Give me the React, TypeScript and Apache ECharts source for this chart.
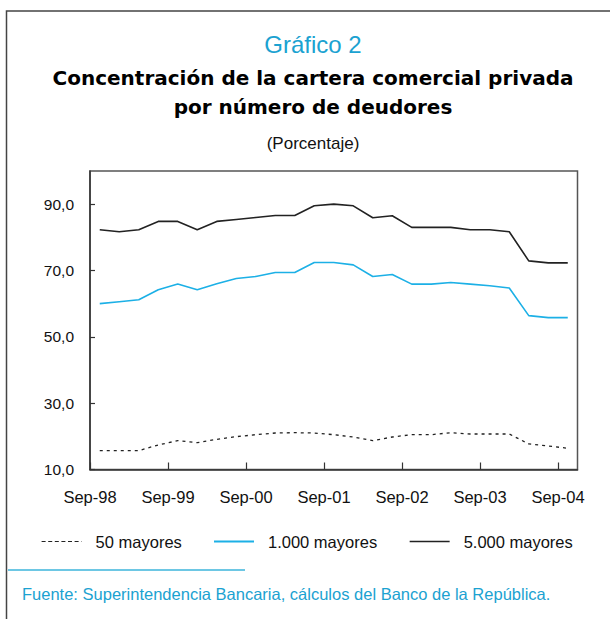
import React, { useEffect, useRef } from "react";
import * as echarts from "echarts";

// Quarterly observations, Sep-98 .. Sep-04
const quarters = [
  "Sep-98", "Dic-98", "Mar-99", "Jun-99",
  "Sep-99", "Dic-99", "Mar-00", "Jun-00",
  "Sep-00", "Dic-00", "Mar-01", "Jun-01",
  "Sep-01", "Dic-01", "Mar-02", "Jun-02",
  "Sep-02", "Dic-02", "Mar-03", "Jun-03",
  "Sep-03", "Dic-03", "Mar-04", "Jun-04",
  "Sep-04",
];
const tickLabels = ["Sep-98", "Sep-99", "Sep-00", "Sep-01", "Sep-02", "Sep-03", "Sep-04"];
const yTicks = [10, 30, 50, 70, 90];

const seriesNames = ["50 mayores", "1.000 mayores", "5.000 mayores"];
const mayores50 = [
  15.7, 15.7, 15.7, 17.4, 18.7, 18.1, 19.1, 19.9, 20.5, 21.0, 21.1, 21.0, 20.5,
  19.8, 18.7, 19.8, 20.5, 20.5, 21.1, 20.7, 20.7, 20.7, 17.7, 17.1, 16.4,
];
const mayores1000 = [
  60.0, 60.6, 61.2, 64.2, 65.9, 64.2, 66.0, 67.6, 68.2, 69.4, 69.4, 72.4, 72.4,
  71.7, 68.2, 68.8, 65.9, 65.9, 66.4, 65.9, 65.4, 64.7, 56.4, 55.8, 55.8,
];
const mayores5000 = [
  82.3, 81.7, 82.3, 84.8, 84.8, 82.3, 84.8, 85.4, 86.0, 86.6, 86.6, 89.5, 90.0,
  89.5, 85.9, 86.5, 83.0, 83.0, 83.0, 82.3, 82.3, 81.7, 72.9, 72.3, 72.3,
];

const titleLines = [
  "Concentración de la cartera comercial privada",
  "por número de deudores",
];
const chartLabel = "Gráfico 2";
const unitLabel = "(Porcentaje)";
const sourceText = "Fuente: Superintendencia Bancaria, cálculos del Banco de la República.";

const CYAN = "#1ba2d1";
const BLUE_LINE = "#1cb0e6";
const SANS = "'Liberation Sans', Arial, Helvetica, sans-serif";
const NARROW = "'Liberation Sans Narrow', 'Arial Narrow', 'Liberation Sans', Arial, sans-serif";
const BOLD = "'DejaVu Sans', Verdana, sans-serif";

const tickPositions = tickLabels.map((l) => quarters.indexOf(l));
const toPoints = (vals: number[]) => quarters.map((_, i) => [i + 0.5, vals[i]]);

export default function App() {
  const ref = useRef<HTMLDivElement>(null);

  useEffect(() => {
    if (!ref.current) return;
    const chart = echarts.init(ref.current, undefined, { renderer: "svg" });

    const legendBase = {
      top: 533,
      padding: 0,
      itemWidth: 40,
      itemHeight: 14,
      itemStyle: { opacity: 0 },
      textStyle: {
        fontFamily: SANS,
        fontSize: 16.5,
        color: "#111",
        padding: [0, 0, 0, 9],
      },
    };

    chart.setOption({
      animation: false,
      backgroundColor: "#fff",
      grid: {
        left: 90,
        right: 32.5,
        top: 171,
        bottom: 149.5,
        show: true,
        borderColor: "#555",
        borderWidth: 1.5,
      },
      xAxis: {
        type: "value",
        min: 0,
        max: quarters.length,
        splitLine: { show: false },
        axisLine: { show: true, lineStyle: { color: "#333", width: 1.5 } },
        axisTick: {
          show: true,
          inside: true,
          length: 7,
          customValues: tickPositions,
          lineStyle: { color: "#333", width: 1.2 },
        },
        axisLabel: {
          customValues: tickPositions,
          margin: 19,
          fontFamily: NARROW,
          fontSize: 16.5,
          color: "#111",
          formatter: (v: number) => quarters[Math.round(v)] ?? "",
        },
      },
      yAxis: {
        type: "value",
        min: 10,
        max: 100,
        splitLine: { show: false },
        axisLine: { show: true, lineStyle: { color: "#333", width: 1.5 } },
        axisTick: {
          show: true,
          inside: true,
          length: 5,
          customValues: yTicks,
          lineStyle: { color: "#333", width: 1.2 },
        },
        axisLabel: {
          customValues: yTicks,
          margin: 16,
          fontFamily: SANS,
          fontSize: 15.5,
          color: "#111",
          formatter: (v: number) => v.toFixed(1).replace(".", ","),
        },
      },
      legend: [
        {
          ...legendBase,
          left: 41,
          data: [seriesNames[0]],
          lineStyle: { type: [4, 2.6], width: 1.2 },
        },
        { ...legendBase, left: 213, data: [seriesNames[1]] },
        { ...legendBase, left: 409, data: [seriesNames[2]], lineStyle: { width: 1.3 } },
      ],
      series: [
        {
          name: seriesNames[0],
          type: "line",
          symbol: "none",
          data: toPoints(mayores50),
          lineStyle: { color: "#222", width: 1.3, type: [3, 4] },
          itemStyle: { color: "#222" },
        },
        {
          name: seriesNames[1],
          type: "line",
          symbol: "none",
          data: toPoints(mayores1000),
          lineStyle: { color: BLUE_LINE, width: 1.6 },
          itemStyle: { color: BLUE_LINE },
        },
        {
          name: seriesNames[2],
          type: "line",
          symbol: "none",
          data: toPoints(mayores5000),
          lineStyle: { color: "#222", width: 1.6 },
          itemStyle: { color: "#222" },
        },
      ],
      graphic: [
        {
          type: "polyline",
          silent: true,
          shape: { points: [[6.5, 619], [6.5, 11], [610, 11]] },
          style: { stroke: "#444", lineWidth: 1.5, fill: "none" },
        },
        {
          type: "text",
          x: 313,
          y: 44,
          style: {
            text: chartLabel,
            fill: CYAN,
            font: `24px ${SANS}`,
            textAlign: "center",
            textVerticalAlign: "middle",
          },
        },
        {
          type: "text",
          x: 313,
          y: 78,
          style: {
            text: titleLines[0],
            fill: "#000",
            font: `bold 20px ${BOLD}`,
            textAlign: "center",
            textVerticalAlign: "middle",
          },
        },
        {
          type: "text",
          x: 313,
          y: 107,
          style: {
            text: titleLines[1],
            fill: "#000",
            font: `bold 20px ${BOLD}`,
            textAlign: "center",
            textVerticalAlign: "middle",
          },
        },
        {
          type: "text",
          x: 313,
          y: 143,
          style: {
            text: unitLabel,
            fill: "#111",
            font: `17px ${SANS}`,
            textAlign: "center",
            textVerticalAlign: "middle",
          },
        },
        {
          type: "line",
          silent: true,
          shape: { x1: 8, y1: 570, x2: 245, y2: 570 },
          style: { stroke: "#3db4db", lineWidth: 1.5 },
        },
        {
          type: "text",
          x: 22,
          y: 594,
          style: {
            text: sourceText,
            fill: CYAN,
            font: `16.5px ${SANS}`,
            textAlign: "left",
            textVerticalAlign: "middle",
          },
        },
      ],
    });

    return () => chart.dispose();
  }, []);

  return (
    <div
      ref={ref}
      style={{ position: "fixed", left: 0, top: 0, width: 610, height: 619 }}
    />
  );
}
